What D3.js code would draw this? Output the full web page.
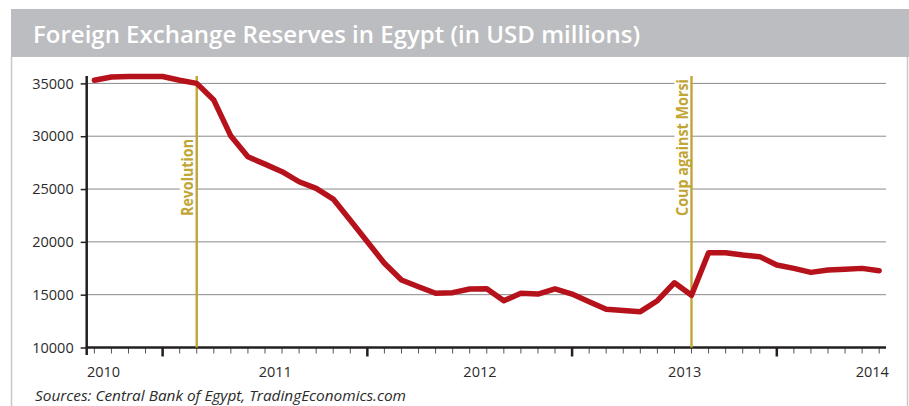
<!DOCTYPE html>
<html>
<head>
<meta charset="utf-8">
<script src="https://cdn.jsdelivr.net/npm/d3@7"></script>
<style>
  body { margin: 0; background: #fff; }
  svg { display: block; }
</style>
</head>
<body>
<div id="chart"></div>
<script>
// Monthly reserves (USD millions), one point per month tick
const reserves = [
  35300, 35600, 35650, 35650, 35650, 35300, 35000, 33420, 30010, 28050,
  27360, 26640, 25690, 25060, 24050, 22050, 20010, 17970, 16390, 15750,
  15130, 15190, 15540, 15570, 14430, 15130, 15060, 15540, 15060, 14330,
  13610, 13500, 13390, 14430, 16130, 14940, 18970, 18970, 18750, 18600,
  17810, 17490, 17110, 17330, 17400, 17490, 17270
];

const yTicks = [10000, 15000, 20000, 25000, 30000, 35000];
const yearLabels = ["2010", "2011", "2012", "2013", "2014"];
const yearLabelAt = [0.54, 10.6, 22.6, 34.6, 45.6];   // month index under each label
const majorTicks = [4, 16, 28, 40];
const eventNames = ["Revolution", "Coup against Morsi"];
const eventAt = [6, 35];

const W = 909, H = 406;
const gold = "#c1a535", red = "#b5121b";

const svg = d3.select("#chart")
  .append("svg")
  .attr("width", W)
  .attr("height", H);

// Title bar and frame
svg.append("rect")
  .attr("x", 11).attr("y", 9)
  .attr("width", W - 11).attr("height", 48)
  .attr("fill", "#bcbdc0");

svg.append("text")
  .attr("x", 33).attr("y", 43)
  .attr("font-family", "Open Sans")
  .attr("font-weight", 600)
  .attr("font-size", 24)
  .attr("fill", "#fff")
  .attr("textLength", 607)
  .attr("lengthAdjust", "spacingAndGlyphs")
  .text("Foreign Exchange Reserves in Egypt (in USD millions)");

svg.append("line")
  .attr("x1", 11.5).attr("x2", 11.5).attr("y1", 57).attr("y2", H)
  .attr("stroke", "#c8c8c8").attr("stroke-width", 1.5);
svg.append("line")
  .attr("x1", 907.5).attr("x2", 907.5).attr("y1", 57).attr("y2", H)
  .attr("stroke", "#c8c8c8").attr("stroke-width", 1.5);

// Scales
const x = d3.scaleLinear()
  .domain([-0.45, 46.4])
  .range([86.7, 886]);

const y = d3.scaleLinear()
  .domain([10000, 35700])
  .range([347.5, 76]);

// Gridlines
svg.append("g")
  .selectAll("line")
  .data(yTicks.filter(d => d > 10000))
  .join("line")
  .attr("x1", x.range()[0]).attr("x2", x.range()[1])
  .attr("y1", d => y(d)).attr("y2", d => y(d))
  .attr("stroke", "#8a8a8a")
  .attr("stroke-width", 1);

// Y axis
const yAxis = svg.append("g")
  .attr("transform", `translate(${x.range()[0]},0)`)
  .call(d3.axisLeft(y).tickValues(yTicks).tickSize(6).tickPadding(7).tickFormat(d3.format("d")));
yAxis.select(".domain").remove();
yAxis.selectAll(".tick line").attr("stroke", "#231f20").attr("stroke-width", 1.5);
yAxis.selectAll(".tick text")
  .attr("font-family", "Open Sans")
  .attr("font-size", 14.5)
  .attr("fill", "#2b2b2b");

svg.append("line")
  .attr("x1", x.range()[0]).attr("x2", x.range()[0])
  .attr("y1", 76).attr("y2", 355)
  .attr("stroke", "#231f20").attr("stroke-width", 2.5);

// X axis: monthly minor ticks, heavier ticks, year labels
const months = d3.range(reserves.length);
svg.append("g")
  .selectAll("line")
  .data(months)
  .join("line")
  .attr("x1", d => x(d)).attr("x2", d => x(d))
  .attr("y1", y(10000)).attr("y2", y(10000) + 6)
  .attr("stroke", "#555")
  .attr("stroke-width", 1);

svg.append("g")
  .selectAll("line")
  .data(majorTicks)
  .join("line")
  .attr("x1", d => x(d)).attr("x2", d => x(d))
  .attr("y1", y(10000)).attr("y2", y(10000) + 9)
  .attr("stroke", "#231f20")
  .attr("stroke-width", 2.5);

svg.append("line")
  .attr("x1", x.range()[0] - 1).attr("x2", x.range()[1])
  .attr("y1", y(10000)).attr("y2", y(10000))
  .attr("stroke", "#231f20").attr("stroke-width", 2.5);

svg.append("g")
  .selectAll("text")
  .data(yearLabels)
  .join("text")
  .attr("x", (d, i) => x(yearLabelAt[i]))
  .attr("y", 377)
  .attr("text-anchor", "middle")
  .attr("font-family", "Open Sans")
  .attr("font-size", 14.5)
  .attr("fill", "#2b2b2b")
  .text(d => d);

// Event markers
const labelLen = [77, 137];
const ev = svg.append("g")
  .selectAll("g")
  .data(eventNames)
  .join("g");

ev.append("rect")
  .attr("x", (d, i) => x(eventAt[i]) - 17)
  .attr("y", (d, i) => 216 - labelLen[i] - 2)
  .attr("width", 16)
  .attr("height", (d, i) => labelLen[i] + 4)
  .attr("fill", "#fff");

ev.append("line")
  .attr("x1", (d, i) => x(eventAt[i])).attr("x2", (d, i) => x(eventAt[i]))
  .attr("y1", 76).attr("y2", y(10000))
  .attr("stroke", gold)
  .attr("stroke-width", 2.4);

ev.append("text")
  .attr("transform", (d, i) => `translate(${x(eventAt[i]) - 3.5},216) rotate(-90)`)
  .attr("font-family", "Open Sans")
  .attr("font-weight", 700)
  .attr("font-size", 16)
  .attr("fill", gold)
  .attr("textLength", (d, i) => labelLen[i])
  .attr("lengthAdjust", "spacingAndGlyphs")
  .text(d => d);

// Reserves line
const line = d3.line()
  .x((d, i) => x(i))
  .y(d => y(d));

svg.append("path")
  .datum(reserves)
  .attr("fill", "none")
  .attr("stroke", red)
  .attr("stroke-width", 5.5)
  .attr("stroke-linejoin", "round")
  .attr("stroke-linecap", "round")
  .attr("d", line);

// Source note
svg.append("text")
  .attr("x", 35).attr("y", 401)
  .attr("font-family", "Open Sans")
  .attr("font-style", "italic")
  .attr("font-size", 14.5)
  .attr("fill", "#2b2b2b")
  .attr("textLength", 371)
  .attr("lengthAdjust", "spacingAndGlyphs")
  .text("Sources: Central Bank of Egypt, TradingEconomics.com");
</script>
</body>
</html>
